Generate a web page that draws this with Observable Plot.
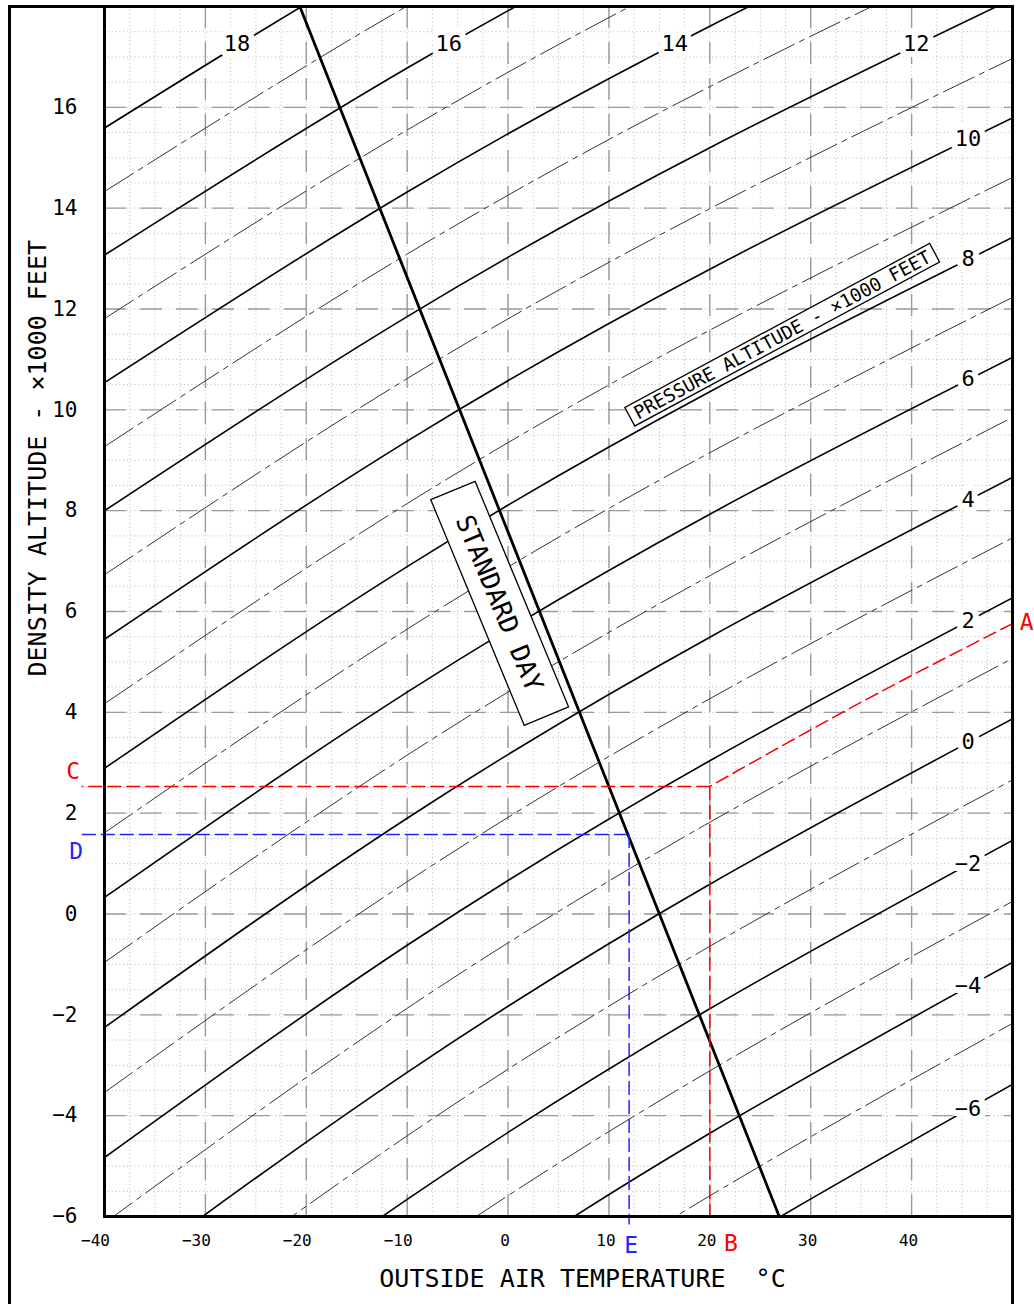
<!DOCTYPE html>
<html><head><meta charset="utf-8">
<script src="https://cdn.jsdelivr.net/npm/d3@7"></script>
<script src="https://cdn.jsdelivr.net/npm/@observablehq/plot@0.6"></script>
<style>
html,body{margin:0;padding:0;background:#fff;overflow:hidden;}
#wrap{position:relative;width:1034px;height:1304px;overflow:hidden;}
#chart{position:absolute;left:0;top:0;}
#border{position:absolute;left:7.5px;top:4.5px;width:1000px;height:1330px;border:3px solid #000;border-bottom:none;pointer-events:none;}
</style></head>
<body><div id="wrap"><div id="chart"></div><div id="border"></div></div>
<script>
// ---------- data ----------
const tempPoints = [-40, -10, 20, 50];                 // °C where each pressure-altitude curve is sampled
const solidPA = [-6, -4, -2, 0, 2, 4, 6, 8, 10, 12, 14, 16, 18];   // ×1000 ft
const solidDA = [                                      // density altitude ×1000 ft at tempPoints
  [-15.25, -10.74, -6.83, -3.38],
  [-12.63, -8.20, -4.35, -0.96],
  [-10.02, -5.66, -1.88, 1.46],
  [-7.42, -3.14, 0.59, 3.87],
  [-4.83, -0.62, 3.04, 6.27],
  [-2.25, 1.90, 5.49, 8.66],
  [0.33, 4.40, 7.93, 11.04],
  [2.89, 6.89, 10.36, 13.42],
  [5.45, 9.38, 12.79, 15.79],
  [8.00, 11.85, 15.20, 18.15],
  [10.54, 14.32, 17.61, 20.50],
  [13.07, 16.78, 20.01, 22.84],
  [15.59, 19.23, 22.39, 25.18]
];
const dashPA = [-5, -3, -1, 1, 3, 5, 7, 9, 11, 13, 15, 17];
const dashDA = [
  [-13.94, -9.47, -5.59, -2.17],
  [-11.33, -6.93, -3.11, 0.25],
  [-8.72, -4.40, -0.64, 2.66],
  [-6.13, -1.87, 1.82, 5.07],
  [-3.54, 0.64, 4.27, 7.46],
  [-0.96, 3.15, 6.71, 9.85],
  [1.61, 5.65, 9.15, 12.23],
  [4.17, 8.14, 11.58, 14.61],
  [6.73, 10.62, 13.99, 16.97],
  [9.27, 13.09, 16.41, 19.33],
  [11.81, 15.55, 18.81, 21.67],
  [14.33, 18.01, 21.20, 24.01]
];
const standardDayT = [-20.64, 26.88];
const standardDayDA = [18, -6];

const xTicks = [-40, -30, -20, -10, 0, 10, 20, 30, 40];
const yTicks = [-6, -4, -2, 0, 2, 4, 6, 8, 10, 12, 14, 16];
const xMajorGrid = [-30, -20, -10, 0, 10, 20, 30, 40];
const yMajorGrid = [-4, -2, 0, 2, 4, 6, 8, 10, 12, 14, 16];
const xMinorGrid = d3.range(-37.5, 50, 2.5);
const yMinorGrid = d3.range(-5.5, 18, 0.5);

const rightLabelT = 45.6;     // curves up to 10 are labelled at this temperature
const topLabelDA = 17.25;     // curves 12..18 are labelled at this density altitude

// worked example
const pathA_T = [50, 35, 20];      const pathA_DA = [5.76, 4.20, 2.53];
const pathC_T = [20, -42.2];       const pathC_DA = [2.53, 2.53];
const pathB_T = [20, 20];          const pathB_DA = [2.53, -6];
const pathD_T = [-42.2, 12];       const pathD_DA = [1.575, 1.575];
const pathE_T = [12, 12];          const pathE_DA = [1.575, -6.15];
const letterText = ["A", "B", "C", "D", "E"];
const letterT = [51.4, 22.1, -43.1, -42.8, 12.2];
const letterDA = [5.78, -6.54, 2.83, 1.24, -6.58];
const letterColor = ["red", "red", "red", "#2424ff", "#2424ff"];

const stdLabel = {text: "STANDARD DAY", T: -0.9, DA: 6.16};
const paLabel = {text: "PRESSURE ALTITUDE - ×1000 FEET", T: 27.2, DA: 11.48};

// ---------- helpers ----------
function lagrange(das, T) {
  let s = 0;
  for (let i = 0; i < tempPoints.length; i++) {
    let L = 1;
    for (let j = 0; j < tempPoints.length; j++) if (j !== i) L *= (T - tempPoints[j]) / (tempPoints[i] - tempPoints[j]);
    s += das[i] * L;
  }
  return s;
}
function solveT(das, target) {
  let lo = -40, hi = 50;
  for (let k = 0; k < 60; k++) { const m = (lo + hi) / 2; if (lagrange(das, m) < target) lo = m; else hi = m; }
  return (lo + hi) / 2;
}
const fmt = v => v < 0 ? "\u2212" + Math.abs(v) : String(v);

const solidRows = solidPA.flatMap((pa, i) => tempPoints.map((T, j) => ({pa, T, DA: solidDA[i][j]})));
const dashRows = dashPA.flatMap((pa, i) => tempPoints.map((T, j) => ({pa, T, DA: dashDA[i][j]})));
const stdRows = standardDayT.map((T, i) => ({T, DA: standardDayDA[i]}));
const lineLabels = solidPA.map((pa, i) => pa <= 10
  ? {pa, T: rightLabelT, DA: lagrange(solidDA[i], rightLabelT)}
  : {pa, T: solveT(solidDA[i], topLabelDA), DA: topLabelDA});
const zipPath = (Ts, DAs) => Ts.map((T, i) => ({T, DA: DAs[i]}));
const letters = letterText.map((t, i) => ({t, T: letterT[i], DA: letterDA[i], c: letterColor[i]}));

const FONT = "DejaVu Sans Mono";

const plot = Plot.plot({
  width: 1034, height: 1304,
  marginLeft: 104, marginRight: 22, marginTop: 6, marginBottom: 88,
  x: {domain: [-40, 50], axis: null},
  y: {domain: [-6, 18], axis: null},
  style: {background: "transparent", fontFamily: FONT, overflow: "visible"},
  marks: [
    Plot.ruleX(xMinorGrid, {x: d => d, stroke: "#c2c2c2", strokeWidth: 1, strokeDasharray: "1.2,2.6"}),
    Plot.ruleY(yMinorGrid, {y: d => d, stroke: "#c2c2c2", strokeWidth: 1, strokeDasharray: "1.2,2.6"}),
    Plot.ruleX(xMajorGrid, {x: d => d, stroke: "#9a9a9a", strokeWidth: 1.4, strokeDasharray: "22,14"}),
    Plot.ruleY(yMajorGrid, {y: d => d, stroke: "#9a9a9a", strokeWidth: 1.4, strokeDasharray: "22,14"}),
    Plot.line(dashRows, {x: "T", y: "DA", z: "pa", curve: "natural", stroke: "#333", strokeWidth: 1, strokeDasharray: "34,6,5,6", clip: true}),
    Plot.line(solidRows, {x: "T", y: "DA", z: "pa", curve: "natural", stroke: "#000", strokeWidth: 1.6, clip: true}),
    Plot.line(stdRows, {x: "T", y: "DA", stroke: "#000", strokeWidth: 2.8}),
    Plot.text([stdLabel], {x: "T", y: "DA", text: "text", rotate: 67.5, fontSize: 26, fontFamily: FONT, fill: "#000"}),
    Plot.text([paLabel], {x: "T", y: "DA", text: "text", rotate: -28.3, fontSize: 18.5, fontFamily: FONT, fill: "#000"}),
    Plot.text(lineLabels, {x: "T", y: "DA", text: d => fmt(d.pa), fontSize: 22, fontFamily: FONT, fill: "#000",
      stroke: "white", strokeWidth: 12, paintOrder: "stroke", strokeLinejoin: "round"}),
    Plot.line(zipPath(pathA_T, pathA_DA), {x: "T", y: "DA", curve: "natural", stroke: "red", strokeWidth: 1.5, strokeDasharray: "13,6"}),
    Plot.line(zipPath(pathC_T, pathC_DA), {x: "T", y: "DA", stroke: "red", strokeWidth: 1.5, strokeDasharray: "13,6"}),
    Plot.line(zipPath(pathB_T, pathB_DA), {x: "T", y: "DA", stroke: "red", strokeWidth: 1.5, strokeDasharray: "13,6"}),
    Plot.line(zipPath(pathD_T, pathD_DA), {x: "T", y: "DA", stroke: "#2424ff", strokeWidth: 1.5, strokeDasharray: "13,6"}),
    Plot.line(zipPath(pathE_T, pathE_DA), {x: "T", y: "DA", stroke: "#2424ff", strokeWidth: 1.5, strokeDasharray: "13,6"}),
    Plot.text(letters, {x: "T", y: "DA", text: "t", fill: "c", fontSize: 23, fontFamily: FONT}),
    Plot.frame({stroke: "#000", strokeWidth: 3}),
    Plot.text(yTicks, {y: d => d, frameAnchor: "left", dx: -27, textAnchor: "end", text: d => fmt(d), fontSize: 21, fontFamily: FONT, fill: "#000"}),
    Plot.text(xTicks.filter(d => d < 0), {x: d => d, frameAnchor: "bottom", dx: -9, dy: 29, text: d => fmt(d), fontSize: 16, fontFamily: FONT, fill: "#000"}),
    Plot.text(xTicks.filter(d => d >= 0), {x: d => d, frameAnchor: "bottom", dx: -3, dy: 29, text: d => fmt(d), fontSize: 16, fontFamily: FONT, fill: "#000"}),
    Plot.text(["OUTSIDE AIR TEMPERATURE\u00a0 °C"], {frameAnchor: "bottom", dx: 24, dy: 70, text: d => d, fontSize: 25, fontFamily: FONT, fill: "#000"}),
    Plot.text(["DENSITY ALTITUDE - ×1000 FEET"], {frameAnchor: "left", dx: -67, dy: 65, rotate: -90, text: d => d, fontSize: 25, fontFamily: FONT, fill: "#000"})
  ]
});
document.getElementById("chart").appendChild(plot);

// white boxes outlined in black behind the two rotated annotations
function boxAround(content, padX, padY) {
  d3.select(plot).selectAll("text").filter(function () { return this.textContent === content; }).each(function () {
    const b = this.getBBox();
    const r = document.createElementNS("http://www.w3.org/2000/svg", "rect");
    r.setAttribute("x", b.x - padX); r.setAttribute("y", b.y - padY);
    r.setAttribute("width", b.width + 2 * padX); r.setAttribute("height", b.height + 2 * padY);
    const t = this.getAttribute("transform"); if (t) r.setAttribute("transform", t);
    r.setAttribute("fill", "white"); r.setAttribute("stroke", "black"); r.setAttribute("stroke-width", "1.3");
    this.parentNode.insertBefore(r, this);
  });
}
boxAround(stdLabel.text, 28, 9);
boxAround(paLabel.text, 6, 0);
</script></body></html>
